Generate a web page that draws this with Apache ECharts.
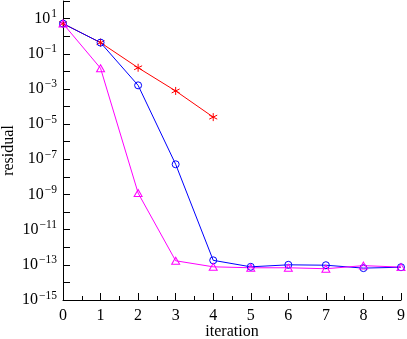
<!DOCTYPE html>
<html>
<head>
<meta charset="utf-8">
<script src="https://cdn.jsdelivr.net/npm/echarts@6/dist/echarts.min.js"></script>
<style>html,body{margin:0;padding:0;background:#fff}#c{width:407px;height:339px}</style>
</head>
<body>
<div id="c"></div>
<script>
const iterations = [0, 1, 2, 3, 4, 5, 6, 7, 8, 9];
const redValues = [5.2, 0.43, 0.016, 7.7e-4, 2.5e-5];
const blueValues = [5.2, 0.43, 1.6e-3, 5.2e-8, 1.8e-13, 7.7e-14, 1.0e-13, 9.5e-14, 6.5e-14, 7.3e-14];
const magentaValues = [5.2, 0.015, 1.2e-9, 1.7e-13, 7.7e-14, 6.8e-14, 6.8e-14, 6.0e-14, 9.0e-14, 7.4e-14];
const xTickLabels = ['0','1','2','3','4','5','6','7','8','9'];
const xName = 'iteration';
const yName = 'residual';

const pairs = (vals) => vals.map((v, i) => [iterations[i], v]);
const font = 'Liberation Serif';
const asterisk = 'path://M0,-10 L0,10 M-8.66,-5 L8.66,5 M-8.66,5 L8.66,-5';
const circle = 'path://M10,0 A10,10 0 1,1 -10,0 A10,10 0 1,1 10,0 Z';
const triangle = 'path://M0,-10 L8.66,5 L-8.66,5 Z';

const chart = echarts.init(document.getElementById('c'), null, {renderer: 'canvas'});
chart.setOption({
  animation: false,
  backgroundColor: '#fff',
  grid: {left: 63, right: 6, top: 1, bottom: 39, containLabel: false, outerBoundsMode: 'none'},
  xAxis: {
    type: 'value', min: 0, max: 9, interval: 1,
    name: xName, nameLocation: 'middle', nameGap: 24, nameMoveOverlap: false,
    nameTextStyle: {fontFamily: font, fontSize: 16, color: '#000'},
    axisLine: {show: true, lineStyle: {color: '#000', width: 1}},
    axisTick: {show: true, inside: true, length: 7, lineStyle: {color: '#000'}},
    minorTick: {show: true, splitNumber: 2, length: 4, lineStyle: {color: '#000'}},
    splitLine: {show: false},
    axisLabel: {fontFamily: font, fontSize: 16, color: '#000', margin: 8,
      formatter: (v) => xTickLabels[Math.round(v)] ?? ''}
  },
  yAxis: {
    type: 'log', logBase: 10, min: 1e-15, max: 1e2, interval: 1,
    name: yName, nameLocation: 'middle', nameGap: 46, nameRotate: 90, nameMoveOverlap: false,
    nameTextStyle: {fontFamily: font, fontSize: 16, color: '#000'},
    axisLine: {show: true, lineStyle: {color: '#000', width: 1}},
    axisTick: {show: true, inside: true, length: 7, lineStyle: {color: '#000'}},
    splitLine: {show: false},
    axisLabel: {
      margin: 6, color: '#000',
      formatter: (v) => {
        const e = Math.round(Math.log10(v));
        if (Math.abs(e) % 2 === 0) return '';
        const s = e < 0 ? '\u2212' + (-e) : String(e);
        return '{a|10}{b|' + s + '}';
      },
      rich: {
        a: {fontFamily: font, fontSize: 16, color: '#000'},
        b: {fontFamily: font, fontSize: 11.5, color: '#000', padding: [0, 0, 9, 1]}
      }
    }
  },
  series: [
    {type: 'line', data: pairs(redValues), symbol: asterisk, symbolSize: 8,
      lineStyle: {color: '#ff0000', width: 1}, itemStyle: {color: 'none', borderColor: '#ff0000', borderWidth: 1}},
    {type: 'line', data: pairs(blueValues), symbol: circle, symbolSize: 7,
      lineStyle: {color: '#0000ff', width: 1}, itemStyle: {color: 'rgba(0,0,0,0)', borderColor: '#0000ff', borderWidth: 1}},
    {type: 'line', data: pairs(magentaValues), symbol: triangle, symbolSize: [8, 7],
      lineStyle: {color: '#ff00ff', width: 1}, itemStyle: {color: 'rgba(0,0,0,0)', borderColor: '#ff00ff', borderWidth: 1}}
  ]
});
</script>
</body>
</html>
